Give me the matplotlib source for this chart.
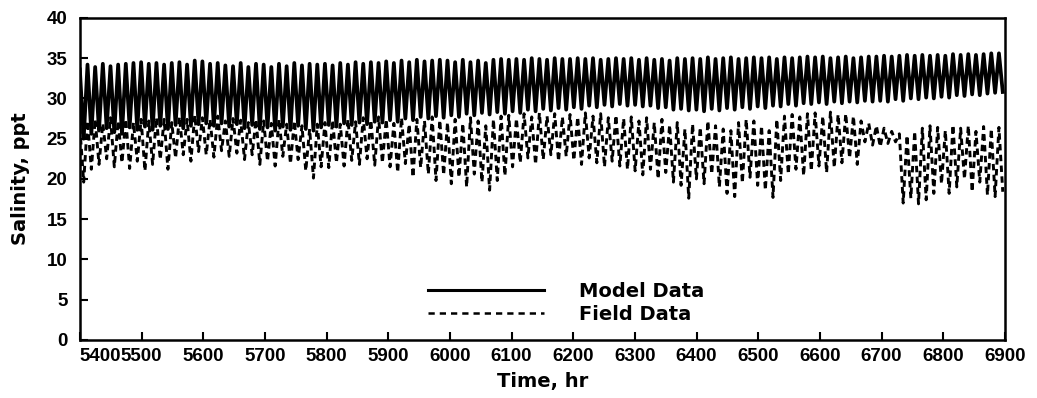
import numpy as np
import matplotlib
matplotlib.use('Agg')
import matplotlib.pyplot as plt

# one high and one low per tidal cycle (ppt)
tide_period = 12.42   # hr, M2 tide
t_start = 5400

model_high = [
    33.6, 34.2, 33.9, 34.3, 34.0, 34.2, 34.3, 34.4,
    34.5, 34.3, 34.4, 34.2, 34.4, 34.5, 34.2, 34.7,
    34.6, 34.3, 34.4, 34.1, 34.0, 34.4, 33.9, 34.3,
    34.2, 33.9, 34.3, 34.0, 34.4, 34.1, 34.3, 34.2,
    34.3, 34.1, 34.4, 34.2, 34.5, 34.3, 34.5, 34.4,
    34.6, 34.4, 34.7, 34.5, 34.8, 34.6, 34.7, 34.8,
    34.7, 34.5, 34.8, 34.5, 34.7, 34.4, 34.8, 34.9,
    34.8, 34.9, 34.8, 35.0, 34.9, 34.8, 35.0, 34.9,
    34.9, 35.0, 34.9, 35.0, 34.8, 34.9, 35.0, 34.9,
    35.0, 34.8, 35.0, 34.8, 34.9, 34.7, 35.0, 34.9,
    35.0, 34.9, 35.1, 34.9, 35.0, 35.1, 34.9, 35.0,
    35.1, 35.0, 35.1, 34.9, 35.1, 35.0, 35.1, 35.2,
    35.1, 35.2, 35.0, 35.1, 35.2, 35.0, 35.1, 35.2,
    35.2, 35.3, 35.2, 35.3, 35.4, 35.3, 35.4, 35.3,
    35.4, 35.3, 35.5, 35.4, 35.5, 35.4, 35.5, 35.6, 35.6,
]
model_low = [
    25.0, 25.6, 26.0, 26.3, 25.8, 25.6, 26.4, 26.1,
    26.5, 26.1, 26.6, 26.2, 26.7, 26.3, 26.6, 26.8,
    26.9, 26.6, 26.9, 26.5, 26.8, 26.3, 26.7, 26.2,
    26.4, 26.0, 26.5, 26.1, 26.6, 26.2, 26.0, 26.4,
    26.7, 26.5, 26.9, 26.7, 27.0, 26.8, 27.1, 27.0,
    27.3, 27.1, 27.5, 27.3, 27.7, 27.5, 27.8, 27.6,
    27.9, 27.7, 28.1, 27.9, 28.2, 28.0, 28.3, 28.1,
    28.4, 28.2, 28.6, 28.4, 28.7, 28.5, 28.8, 28.6,
    28.9, 28.7, 29.1, 28.9, 29.2, 29.0, 29.3, 29.1,
    29.2, 29.0, 29.1, 28.8, 28.9, 28.6, 28.7, 28.5,
    28.6, 28.4, 28.7, 28.5, 28.8, 28.6, 28.9, 28.7,
    29.0, 28.8, 29.1, 29.0, 29.3, 29.1, 29.4, 29.3,
    29.5, 29.3, 29.6, 29.4, 29.6, 29.5, 29.7, 29.6,
    29.7, 29.6, 29.9, 29.7, 30.0, 29.9, 30.1, 30.0,
    30.2, 30.1, 30.4, 30.3, 30.5, 30.4, 30.6, 30.7, 30.8,
]
field_high = [
    26.4, 27.2, 27.4, 26.9, 27.6, 27.2, 27.4, 27.0,
    27.4, 27.2, 27.6, 27.4, 27.0, 27.7, 27.4, 27.9,
    27.6, 27.4, 27.8, 27.2, 27.5, 27.3, 27.0, 27.4,
    27.2, 26.9, 27.4, 26.8, 27.2, 26.6, 26.2, 26.8,
    27.0, 27.3, 26.8, 27.4, 27.1, 27.6, 27.3, 27.7,
    27.4, 26.9, 27.6, 26.8, 27.4, 27.2, 27.7, 27.3,
    27.0, 27.4, 26.9, 27.6, 27.2, 26.6, 27.4, 27.8,
    27.9, 27.5, 28.1, 27.7, 28.2, 27.8, 28.1, 27.7,
    28.0, 27.7, 28.2, 27.8, 28.1, 27.6, 27.9, 27.5,
    27.7, 27.2, 27.6, 27.0, 27.4, 26.7, 27.0, 26.2,
    26.8, 26.4, 27.2, 26.6, 26.2, 26.0, 27.0, 27.4,
    27.2, 26.6, 26.0, 27.4, 27.8, 28.0, 27.7, 28.1,
    28.2, 27.8, 28.3, 28.0, 28.1, 27.8, 27.2, 26.9,
    26.6, 26.3, 25.9, 25.6, 25.4, 25.9, 26.3, 26.6,
    26.4, 26.0, 26.7, 26.3, 26.6, 25.9, 26.5, 26.2, 26.4,
]
field_low = [
    19.6, 21.2, 21.8, 22.5, 21.5, 22.0, 21.3, 22.2,
    21.0, 21.8, 22.4, 21.2, 22.6, 23.0, 22.2, 23.4,
    23.0, 22.7, 23.5, 22.8, 23.2, 22.4, 23.0, 21.8,
    22.2, 21.6, 22.8, 21.9, 22.4, 21.0, 20.1, 21.5,
    21.4, 22.0, 21.6, 22.3, 21.8, 22.5, 21.7, 22.0,
    21.5, 20.8, 21.9, 20.2, 21.4, 20.6, 19.8, 20.5,
    19.4, 20.2, 19.0, 20.6, 19.6, 18.6, 19.8, 20.4,
    21.5, 22.0, 22.6, 21.8, 22.4, 23.0, 22.2, 22.8,
    22.3, 21.8, 22.6, 22.0, 21.5, 22.2, 21.6, 21.2,
    21.0, 20.5, 21.2, 20.0, 20.8, 19.6, 19.2, 17.6,
    20.0, 19.4, 20.6, 19.0, 18.2, 17.8, 19.5, 20.2,
    19.2, 18.6, 17.7, 19.8, 20.6, 21.2, 20.4, 21.0,
    21.6, 20.8, 21.4, 22.0, 22.6, 21.8, 24.6, 24.2,
    24.0, 24.4, 24.6, 17.0, 17.6, 16.9, 17.4, 18.2,
    19.4, 18.2, 19.0, 20.0, 18.4, 19.6, 18.0, 17.8, 18.4,
]

x_ticks = list(range(5400, 7000, 100))
y_ticks = list(range(0, 45, 5))

n = len(model_high)
t_high = t_start + tide_period * np.arange(n)
t_low = t_high + tide_period / 2
t = np.column_stack([t_high, t_low]).ravel()
model = np.column_stack([model_high, model_low]).ravel()
field = np.column_stack([field_high, field_low]).ravel()

fig = plt.figure(figsize=(10.37, 3.98), dpi=100)
ax = fig.add_axes([0.077, 0.146, 0.892, 0.809])

ax.plot(t, field, color='black', lw=2.1, ls=(0, (2.2, 1.5)), label='Field Data')
ax.plot(t, model, color='black', lw=2.7, solid_joinstyle='round', label='Model Data')

ax.set_xlim(5400, 6900)
ax.set_ylim(0, 40)
ax.set_xticks(x_ticks)
ax.set_yticks(y_ticks)
ax.tick_params(direction='in', length=6, width=1.5, top=False, right=False)
ax.tick_params(axis='x', pad=6)
ax.tick_params(axis='y', pad=9)
for lab in ax.get_xticklabels() + ax.get_yticklabels():
    lab.set_family('Liberation Sans')
    lab.set_weight('bold')
    lab.set_fontsize(13.5)
ax.get_xticklabels()[0].set_horizontalalignment('left')
for s in ax.spines.values():
    s.set_linewidth(1.8)

ax.set_xlabel('Time, hr', fontsize=14, fontweight='bold', family='DejaVu Sans', labelpad=5)
ax.set_ylabel('Salinity, ppt', fontsize=14, fontweight='bold', family='DejaVu Sans', labelpad=12)

h, l = ax.get_legend_handles_labels()
leg = ax.legend(h[::-1], l[::-1], loc='upper left', bbox_to_anchor=(0.376, 0.18),
                frameon=False, handlelength=6.0, handletextpad=1.8,
                labelspacing=0.2, borderpad=0, borderaxespad=0,
                prop={'family': 'DejaVu Sans', 'weight': 'bold', 'size': 14})
leg.get_lines()[0].set_linewidth(2.2)
leg.get_lines()[1].set_linewidth(1.8)
leg.get_lines()[1].set_linestyle((0, (2.5, 2)))

fig.savefig('out.png', dpi=100)
